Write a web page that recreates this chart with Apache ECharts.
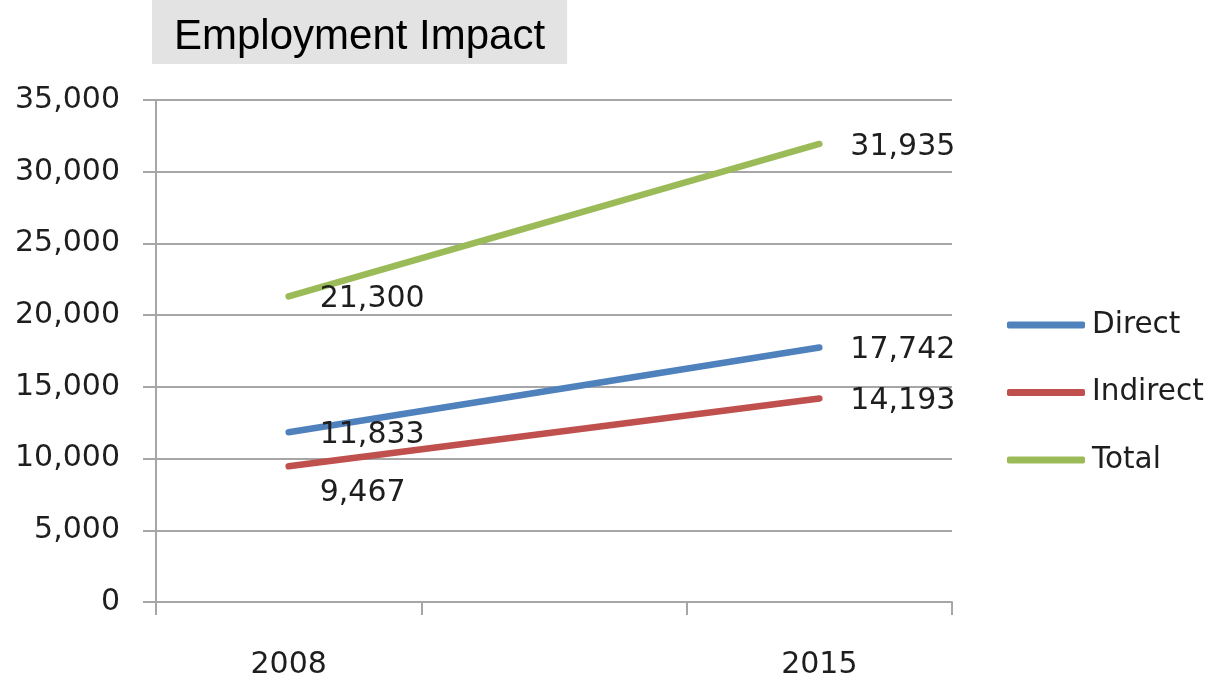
<!DOCTYPE html>
<html>
<head>
<meta charset="utf-8">
<script src="https://cdn.jsdelivr.net/npm/echarts@6/dist/echarts.min.js"></script>
<style>
html,body{margin:0;padding:0;background:#fff;}
#chart{width:1210px;height:680px;}
</style>
</head>
<body>
<div id="chart"></div>
<script>
const categories = ['2008', '', '2015'];
const seriesNames = ['Direct', 'Indirect', 'Total'];
const directValues = [11833, null, 17742];
const indirectValues = [9467, null, 14193];
const totalValues = [21300, null, 31935];
const yTicks = [0, 5000, 10000, 15000, 20000, 25000, 30000, 35000];

const FONT = 'DejaVu Sans';
const TXT = '#1e1e1e';
const GRID = '#a6a6a6';
const fmt = v => String(v).replace(/\B(?=(\d{3})+(?!\d))/g, ',');

function mkSeries(name, data, color, firstOffset) {
  return {
    name: name,
    type: 'line',
    data: data.map((v, i) => {
      if (v === null) return null;
      const d = { value: v };
      if (i === 0 && firstOffset) d.label = { offset: firstOffset };
      return d;
    }),
    connectNulls: true,
    color: color,
    symbol: 'circle',
    symbolSize: 0.01,
    showSymbol: true,
    lineStyle: { color: color, width: 6.5, cap: 'round' },
    label: {
      show: true,
      position: 'right',
      distance: 31,
      offset: [0, 3],
      fontFamily: FONT,
      fontSize: 30,
      color: TXT,
      formatter: p => fmt(p.value)
    },
    emphasis: { disabled: true },
    animation: false
  };
}

const chart = echarts.init(document.getElementById('chart'), null, { renderer: 'canvas' });
chart.setOption({
  backgroundColor: '#ffffff',
  animation: false,
  title: {
    text: 'Employment Impact',
    left: 152,
    top: 0,
    backgroundColor: '#e3e3e3',
    padding: [14, 22, 4, 22],
    textStyle: {
      fontFamily: 'Liberation Sans',
      fontSize: 42,
      fontWeight: 'normal',
      lineHeight: 46,
      color: '#000'
    }
  },
  grid: { left: 156, right: 258, top: 100, bottom: 75, containLabel: false },
  legend: {
    orient: 'vertical',
    left: 1002,
    top: 305,
    itemWidth: 78,
    itemHeight: 7,
    itemGap: 37.5,
    icon: 'roundRect',
    data: seriesNames,
    textStyle: { fontFamily: FONT, fontSize: 29.5, color: TXT, lineHeight: 30, padding: [0, 0, 0, 2] }
  },
  xAxis: {
    type: 'category',
    data: categories,
    boundaryGap: true,
    axisLine: { show: true, lineStyle: { color: GRID, width: 2 } },
    axisTick: { show: true, length: 13, interval: 0, lineStyle: { color: GRID, width: 2 } },
    axisLabel: { fontFamily: FONT, fontSize: 30, color: TXT, margin: 48, interval: 0 },
    splitLine: { show: false }
  },
  yAxis: {
    type: 'value',
    min: yTicks[0],
    max: yTicks[yTicks.length - 1],
    interval: 5000,
    axisLine: { show: true, lineStyle: { color: GRID, width: 2 } },
    axisTick: { show: true, length: 13, lineStyle: { color: GRID, width: 2 } },
    axisLabel: { fontFamily: FONT, fontSize: 30, color: TXT, margin: 36, formatter: v => fmt(v) },
    splitLine: { show: true, lineStyle: { color: GRID, width: 2 } }
  },
  series: [
    mkSeries('Direct', directValues, '#4f81bd'),
    mkSeries('Indirect', indirectValues, '#c0504d', [0, 27]),
    mkSeries('Total', totalValues, '#9bbb59')
  ]
});
</script>
</body>
</html>
